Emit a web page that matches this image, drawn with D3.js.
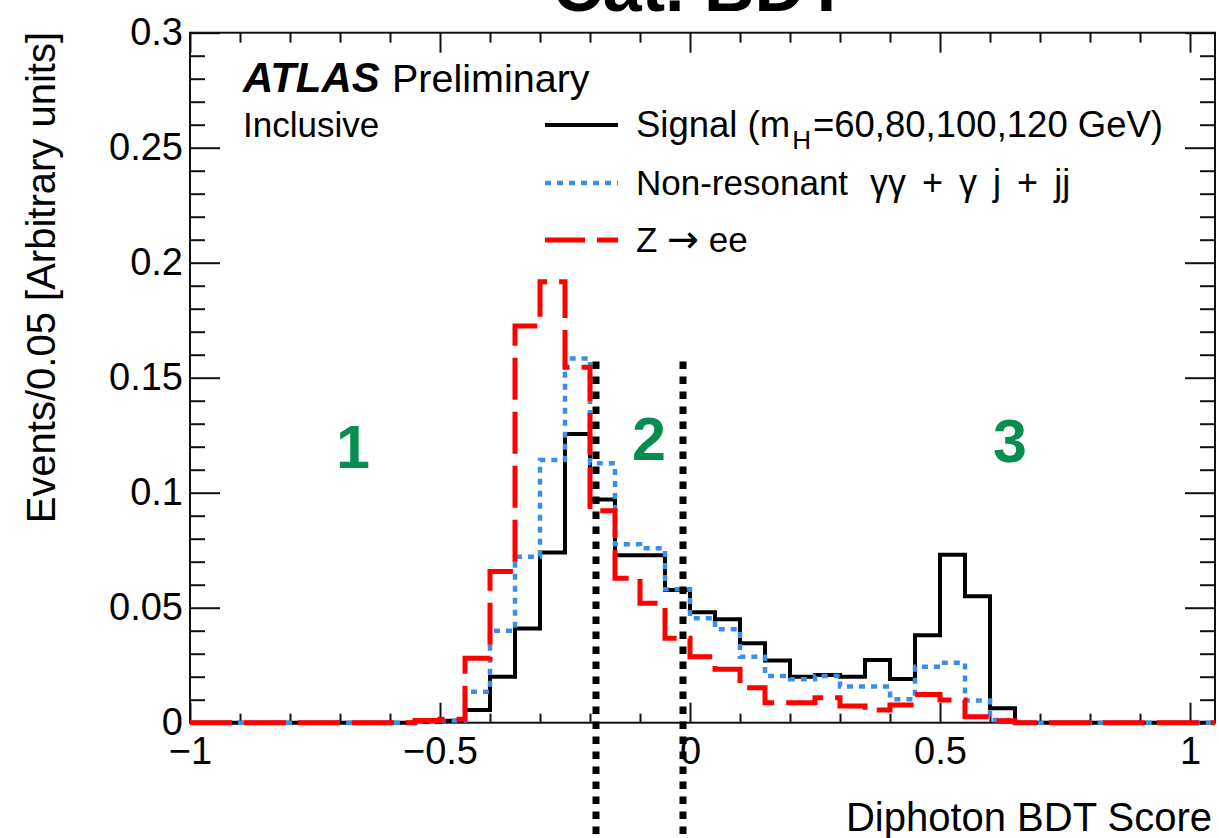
<!DOCTYPE html>
<html>
<head>
<meta charset="utf-8">
<script src="https://cdn.jsdelivr.net/npm/d3@7"></script>
<style>
  html, body { margin: 0; padding: 0; background: #ffffff; }
  svg { display: block; font-family: "Liberation Sans", Arial, Helvetica, sans-serif; }
</style>
</head>
<body>
<svg id="chart" width="1219" height="838"></svg>
<script>
// Histogram binning: lower edges of the 0.05-wide BDT score bins
const binLowEdges = [
  -1.00, -0.95, -0.90, -0.85, -0.80, -0.75, -0.70, -0.65, -0.60, -0.55,
  -0.50, -0.45, -0.40, -0.35, -0.30, -0.25, -0.20, -0.15, -0.10, -0.05,
   0.00,  0.05,  0.10,  0.15,  0.20,  0.25,  0.30,  0.35,  0.40,  0.45,
   0.50,  0.55,  0.60,  0.65,  0.70,  0.75,  0.80,  0.85,  0.90,  0.95,
   1.00
];
const binWidth = 0.05;

// Normalised distributions (events per bin, arbitrary units)
const signalValues = [
  0, 0, 0, 0, 0, 0, 0, 0, 0, 0.0003,
  0.0008, 0.0055, 0.020, 0.041, 0.074, 0.1255, 0.097, 0.0728, 0.0728, 0.0577,
  0.048, 0.045, 0.0345, 0.027, 0.020, 0.0207, 0.020, 0.0273, 0.019, 0.038,
  0.073, 0.055, 0.0063, 0, 0, 0, 0, 0, 0, 0,
  0
];
const nonResonantValues = [
  0, 0, 0, 0, 0, 0, 0, 0, 0, 0.0004,
  0.001, 0.0135, 0.040, 0.0722, 0.1142, 0.1584, 0.1128, 0.0776, 0.0758, 0.058,
  0.0454, 0.0406, 0.0287, 0.0203, 0.0189, 0.0203, 0.0157, 0.0157, 0.0102, 0.0243,
  0.0261, 0.0096, 0.0012, 0, 0, 0, 0, 0, 0, 0,
  0
];
const zeeValues = [
  0, 0, 0, 0, 0, 0, 0, 0, 0, 0.001,
  0.0015, 0.028, 0.0657, 0.1725, 0.1917, 0.1545, 0.0922, 0.0628, 0.0519, 0.0367,
  0.0287, 0.0232, 0.0152, 0.0087, 0.0087, 0.0109, 0.0073, 0.0055, 0.0077, 0.0123,
  0.0099, 0.0026, 0.0008, 0, 0, 0, 0, 0, 0, 0,
  0
];

// Category boundaries on the BDT score and the category numbers
const categoryCuts = [-0.188, -0.014];
const categoryCutTop = 0.157;
const categoryLabels = ["1", "2", "3"];
const categoryLabelX = [-0.674, -0.082, 0.64];
const categoryLabelY = [0.1107, 0.1142, 0.1134];

// Axis ticks
const xMajorTicks = [-1, -0.5, 0, 0.5, 1];
const xTickLabels = ["\u22121", "\u22120.5", "0", "0.5", "1"];
const xMinorTicks = [-0.9, -0.8, -0.7, -0.6, -0.4, -0.3, -0.2, -0.1,
                     0.1, 0.2, 0.3, 0.4, 0.6, 0.7, 0.8, 0.9];
const yMajorTicks = [0, 0.05, 0.1, 0.15, 0.2, 0.25, 0.3];
const yTickLabels = ["0", "0.05", "0.1", "0.15", "0.2", "0.25", "0.3"];
const yMinorTicks = [0.01, 0.02, 0.03, 0.04, 0.06, 0.07, 0.08, 0.09,
                     0.11, 0.12, 0.13, 0.14, 0.16, 0.17, 0.18, 0.19,
                     0.21, 0.22, 0.23, 0.24, 0.26, 0.27, 0.28, 0.29];

// Legend entries
const legendEntries = ["signal", "nonres", "zee"];

const W = 1219, H = 838;
const frame = { left: 190, right: 1215, top: 32.7, bottom: 722.7 };

const svg = d3.select("#chart");
svg.append("rect").attr("width", W).attr("height", H).attr("fill", "#ffffff");

const x = d3.scaleLinear().domain([-1, 1.05]).range([frame.left, frame.right]);
const y = d3.scaleLinear().domain([0, 0.3]).range([frame.bottom, frame.top]);

const tickFont = 38;

function styleAxis(g) {
  g.select(".domain").remove();
  g.selectAll(".tick line").attr("stroke", "#111").attr("stroke-width", 2);
  g.selectAll(".tick text")
    .attr("fill", "#000")
    .attr("font-size", tickFont)
    .attr("font-family", "\"Liberation Sans\", Arial, Helvetica, sans-serif");
}

// Frame
svg.append("rect")
  .attr("x", frame.left).attr("y", frame.top)
  .attr("width", frame.right - frame.left)
  .attr("height", frame.bottom - frame.top)
  .attr("fill", "none").attr("stroke", "#111").attr("stroke-width", 2);

// Bottom axis: major with labels, minor without
svg.append("g").attr("transform", `translate(0,${frame.bottom})`)
  .call(d3.axisBottom(x).tickValues(xMajorTicks)
    .tickFormat((d, i) => xTickLabels[i]).tickSize(-20).tickPadding(14))
  .call(styleAxis);
svg.append("g").attr("transform", `translate(0,${frame.bottom})`)
  .call(d3.axisBottom(x).tickValues(xMinorTicks).tickFormat("").tickSize(-9))
  .call(styleAxis);

// Top axis ticks
svg.append("g").attr("transform", `translate(0,${frame.top})`)
  .call(d3.axisTop(x).tickValues(xMajorTicks).tickFormat("").tickSize(-20))
  .call(styleAxis);
svg.append("g").attr("transform", `translate(0,${frame.top})`)
  .call(d3.axisTop(x).tickValues(xMinorTicks).tickFormat("").tickSize(-10))
  .call(styleAxis);

// Left axis
svg.append("g").attr("transform", `translate(${frame.left},0)`)
  .call(d3.axisLeft(y).tickValues(yMajorTicks)
    .tickFormat((d, i) => yTickLabels[i]).tickSize(-30).tickPadding(7))
  .call(styleAxis);
svg.append("g").attr("transform", `translate(${frame.left},0)`)
  .call(d3.axisLeft(y).tickValues(yMinorTicks).tickFormat("").tickSize(-15))
  .call(styleAxis);

// Right axis ticks
svg.append("g").attr("transform", `translate(${frame.right},0)`)
  .call(d3.axisRight(y).tickValues(yMajorTicks).tickFormat("").tickSize(-30))
  .call(styleAxis);
svg.append("g").attr("transform", `translate(${frame.right},0)`)
  .call(d3.axisRight(y).tickValues(yMinorTicks).tickFormat("").tickSize(-15))
  .call(styleAxis);

// Histogram outlines as step lines
const stepLine = d3.line()
  .x(d => x(d[0]))
  .y(d => y(d[1]))
  .curve(d3.curveStepAfter);

function histPoints(values) {
  const pts = binLowEdges.map((e, i) => [e, values[i]]);
  const last = binLowEdges.length - 1;
  pts.push([binLowEdges[last] + binWidth, values[last]]);
  return pts;
}

const styles = {
  signal: { color: "#000000", width: 4, dash: null },
  nonres: { color: "#3a8ee8", width: 4.5, dash: "6,6" },
  zee:    { color: "#ff0000", width: 5, dash: "42,12" }
};
const seriesValues = { signal: signalValues, nonres: nonResonantValues, zee: zeeValues };

legendEntries.forEach(key => {
  const s = styles[key];
  svg.append("path")
    .attr("d", stepLine(histPoints(seriesValues[key])))
    .attr("fill", "none")
    .attr("stroke", s.color)
    .attr("stroke-width", s.width)
    .attr("stroke-dasharray", s.dash)
    .attr("stroke-linejoin", "miter");
});

// Category boundary lines
svg.selectAll("line.cut").data(categoryCuts).enter().append("line")
  .attr("class", "cut")
  .attr("x1", d => x(d)).attr("x2", d => x(d))
  .attr("y1", y(categoryCutTop)).attr("y2", H)
  .attr("stroke", "#000").attr("stroke-width", 7)
  .attr("stroke-dasharray", "7.5,7.5");

// Category numbers
svg.selectAll("text.cat").data(categoryLabels).enter().append("text")
  .attr("class", "cat")
  .attr("x", (d, i) => x(categoryLabelX[i]))
  .attr("y", (d, i) => y(categoryLabelY[i]))
  .attr("text-anchor", "middle")
  .attr("font-size", 61).attr("font-weight", "bold")
  .attr("fill", "#078d4f")
  .text(d => d);

// Title (extends beyond the top edge)
svg.append("text")
  .attr("x", 700).attr("y", 11)
  .attr("text-anchor", "middle")
  .attr("font-size", 70).attr("font-weight", "bold")
  .text("Cat. BDT");

// ATLAS label
const atlas = svg.append("text").attr("x", 243).attr("y", 92).attr("font-size", 42);
atlas.append("tspan").attr("font-weight", "bold").attr("font-style", "italic").text("ATLAS");
atlas.append("tspan").attr("x", 392).attr("font-size", 39.5).text("Preliminary");
svg.append("text").attr("x", 243).attr("y", 137).attr("font-size", 35).text("Inclusive");

// Legend
const legendY = { signal: 125, nonres: 183, zee: 240 };
const legendTextY = { signal: 137, nonres: 195, zee: 252 };
const legendFont = 35;
legendEntries.forEach(key => {
  const s = styles[key];
  svg.append("line")
    .attr("x1", 545).attr("x2", 618)
    .attr("y1", legendY[key]).attr("y2", legendY[key])
    .attr("stroke", s.color).attr("stroke-width", s.width)
    .attr("stroke-dasharray", key === "zee" ? "40,12" : s.dash);
});
const tSig = svg.append("text").attr("x", 636).attr("y", legendTextY.signal).attr("font-size", 36.5);
tSig.append("tspan").text("Signal (m");
tSig.append("tspan").attr("font-size", 26).attr("dx", 2).attr("dy", 12).text("H");
tSig.append("tspan").attr("dx", 2).attr("dy", -12).text("=60,80,100,120 GeV)");

const tBkg = svg.append("text").attr("x", 636).attr("y", legendTextY.nonres).attr("font-size", legendFont);
tBkg.append("tspan").text("Non-resonant");
tBkg.append("tspan").attr("dx", 22).attr("font-size", 36).attr("word-spacing", 6)
  .text("\u03B3\u03B3 + \u03B3 j + jj");

const tZ = svg.append("text").attr("x", 636).attr("y", legendTextY.zee).attr("font-size", legendFont);
tZ.append("tspan").text("Z ");
tZ.append("tspan").attr("font-family", "\"DejaVu Sans\", sans-serif").attr("font-size", 38).text("\u2192");
tZ.append("tspan").text(" ee");

// Axis titles
svg.append("text")
  .attr("x", 1212).attr("y", 831)
  .attr("text-anchor", "end").attr("font-size", 40)
  .text("Diphoton BDT Score");
svg.append("text")
  .attr("transform", "translate(55,32) rotate(-90)")
  .attr("text-anchor", "end").attr("font-size", 40)
  .text("Events/0.05 [Arbitrary units]");
</script>
</body>
</html>
